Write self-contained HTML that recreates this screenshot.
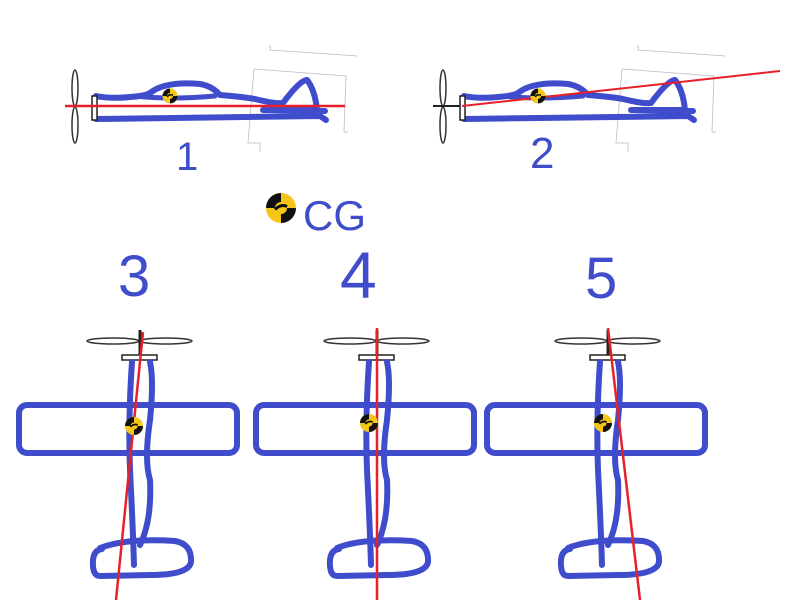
<!DOCTYPE html>
<html><head><meta charset="utf-8"><style>
html,body{margin:0;padding:0;background:#fff;width:800px;height:600px;overflow:hidden}
svg{display:block}
text{font-family:"Liberation Sans",sans-serif;fill:#3f4ccc}
</style></head><body>
<svg width="800" height="600" viewBox="0 0 800 600" xmlns="http://www.w3.org/2000/svg">
<defs>
<g id="cg">
  <circle r="10" fill="#f5c518"/>
  <path d="M0,0 L0,-10 A10,10 0 0 0 -10,0 Z" fill="#111"/>
  <path d="M0,0 L0,10 A10,10 0 0 0 10,0 Z" fill="#111"/>
  <circle r="4" fill="#f5c518"/>
  <path d="M-4,1 Q0,-3 4,-1" stroke="#111" stroke-width="2" fill="none"/>
</g>
<g id="side">
  <!-- gray thin boxes -->
  <path d="M270,45 L270,50 L358,56" stroke="#bbb" stroke-width="0.8" fill="none"/>
  <path d="M254,69 L346,76 L344,132 L348,132" stroke="#bbb" stroke-width="0.8" fill="none"/>
  <path d="M254,69 L248,143 L260,143 L260,152" stroke="#bbb" stroke-width="0.8" fill="none"/>
  <!-- prop -->
  <ellipse cx="75" cy="88" rx="3" ry="18" fill="none" stroke="#333" stroke-width="1.5"/>
  <ellipse cx="75" cy="125" rx="3" ry="18" fill="none" stroke="#333" stroke-width="1.5"/>
  <line x1="65" y1="106" x2="92" y2="106" stroke="#222" stroke-width="2"/>
  <!-- fuselage -->
  <path d="M96,96 Q110,99 130,97 Q145,96 150,93 Q165,81 200,84 Q212,86 220,95 Q245,97 255,99 Q275,104 283,103 Q300,80 307,80 Q315,90 317,110 L263,110 L325,111 M96,119 Q200,118 320,116 L326,120" stroke="#3f4ccc" stroke-width="6" fill="none" stroke-linecap="round" stroke-linejoin="round"/>
  <path d="M135,96 Q170,100 215,96" stroke="#3f4ccc" stroke-width="5" fill="none" stroke-linecap="round"/>
  <rect x="92" y="96" width="5" height="24" fill="#fff" stroke="#222" stroke-width="1.5"/>
</g>
<g id="top">
  <ellipse cx="-27" cy="341" rx="26" ry="3" fill="none" stroke="#333" stroke-width="1.5"/>
  <ellipse cx="26" cy="341" rx="26" ry="3" fill="none" stroke="#333" stroke-width="1.5"/>
  <line x1="0" y1="330" x2="0" y2="356" stroke="#222" stroke-width="3"/>
  <rect x="-18" y="355" width="35" height="5" fill="#fff" stroke="#222" stroke-width="1.5"/>
  <rect x="-121" y="405" width="218" height="48" rx="8" fill="none" stroke="#3f4ccc" stroke-width="6"/>
  <path d="M-8,362 Q-12,420 -10,470 Q-7,530 -6,565 M10,362 Q14,380 10,420 Q4,460 10,480 Q12,520 0,545" stroke="#3f4ccc" stroke-width="6" fill="none" stroke-linecap="round"/>
  <path d="M-40,548 Q-15,538 35,541 Q52,544 51,562 Q49,575 10,575 L-40,576 Q-48,576 -47,560 Q-46,550 -38,549" stroke="#3f4ccc" stroke-width="6" fill="none" stroke-linecap="round" stroke-linejoin="round"/>
</g>
</defs>

<use href="#side"/>
<line x1="65" y1="106" x2="345" y2="106" stroke="#e8202a" stroke-width="2.5"/>
<use href="#cg" transform="translate(170,96) scale(0.75)"/>
<text x="176" y="170" font-size="40">1</text>

<use href="#side" transform="translate(368,0)"/>
<line x1="462" y1="106" x2="780" y2="71" stroke="#e8202a" stroke-width="2"/>
<use href="#cg" transform="translate(538,96) scale(0.75)"/>
<text x="530" y="168" font-size="44">2</text>

<use href="#cg" transform="translate(281,208) scale(1.5)"/>
<text x="303" y="230" font-size="42">CG</text>

<text x="118" y="296" font-size="58">3</text>
<text x="340" y="298" font-size="66">4</text>
<text x="585" y="298" font-size="58">5</text>

<use href="#top" transform="translate(140,0)"/>
<line x1="143" y1="332" x2="116" y2="600" stroke="#e8202a" stroke-width="2.5"/>
<use href="#cg" transform="translate(134,426) scale(0.9)"/>

<use href="#top" transform="translate(377,0)"/>
<line x1="377" y1="328" x2="377" y2="600" stroke="#e8202a" stroke-width="2.5"/>
<use href="#cg" transform="translate(369,423) scale(0.9)"/>

<use href="#top" transform="translate(608,0)"/>
<line x1="608" y1="328" x2="640" y2="600" stroke="#e8202a" stroke-width="2.5"/>
<use href="#cg" transform="translate(603,423) scale(0.9)"/>
</svg>
</body></html>
